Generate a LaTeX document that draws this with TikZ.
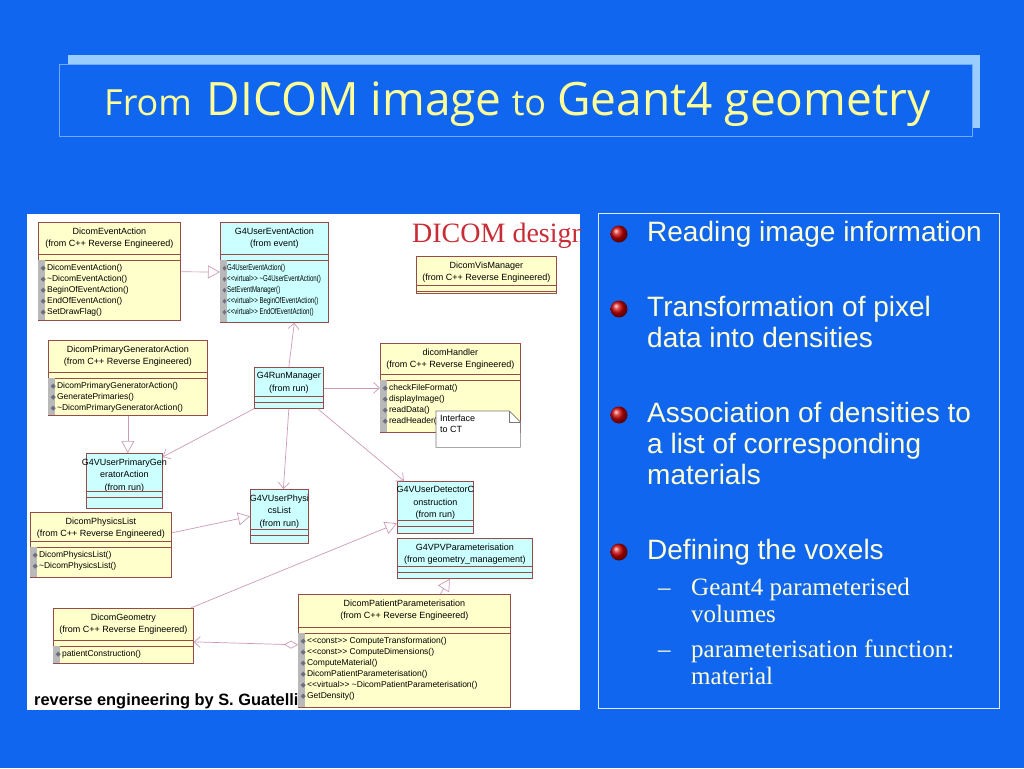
\documentclass[tikz,border=0pt]{standalone}
\usepackage{fontspec}
\setmainfont{Liberation Sans}
\newfontfamily\seriffont{Liberation Serif}
\newfontfamily\titlefont{Open Sans}
\newfontfamily\iconfont{DejaVu Sans}
\usetikzlibrary{shapes,arrows.meta,positioning}

\definecolor{slideblue}{RGB}{17,102,240}
\definecolor{titleshade}{RGB}{153,204,255}
\definecolor{titleline}{RGB}{110,170,255}
\definecolor{titleyellow}{RGB}{255,255,153}
\definecolor{bodytext}{RGB}{255,255,210}
\definecolor{panelline}{RGB}{225,235,255}
\definecolor{classyellow}{RGB}{255,255,204}
\definecolor{classcyan}{RGB}{204,255,255}
\definecolor{classborder}{RGB}{150,75,75}
\definecolor{linkpink}{RGB}{205,155,185}
\definecolor{stripgray}{RGB}{185,185,185}
\definecolor{icongray}{RGB}{110,110,130}
\definecolor{notegray}{RGB}{120,120,120}
\definecolor{dicomred}{RGB}{200,45,55}

\tikzstyle{titleshadow} = [rectangle, fill=titleshade, inner sep=0pt]
\tikzstyle{titleframe} = [rectangle, fill=slideblue, draw=titleline, line width=0.8pt, inner sep=0pt]
\tikzstyle{titletext} = [inner sep=0pt, text=titleyellow, font=\titlefont]
\tikzstyle{textpanel} = [rectangle, draw=panelline, line width=1pt, inner sep=0pt]
\tikzstyle{bulletball} = [circle, inner sep=0pt, minimum size=17pt, ball color=red!80!black]
\tikzstyle{itemtext} = [anchor=north west, align=left, inner sep=0pt, text=bodytext, font=\fontsize{28}{31}\selectfont]
\tikzstyle{subtext} = [anchor=north west, align=left, inner sep=0pt, text=bodytext, font=\seriffont\fontsize{25}{27}\selectfont]
\tikzstyle{subdash} = [anchor=base west, inner sep=0pt, text=bodytext, font=\seriffont\fontsize{25}{27}\selectfont]
\tikzstyle{designpanel} = [rectangle, fill=white, inner sep=0pt]
\tikzstyle{classbox} = [rectangle, draw=classborder, line width=0.7pt, anchor=north west, inner sep=0pt]
\tikzstyle{classhead} = [anchor=north, align=center, inner sep=0pt, font=\fontsize{9}{12.5}\selectfont]
\tikzstyle{classops} = [anchor=north west, align=left, inner sep=0pt, font=\fontsize{8.5}{11}\selectfont]
\tikzstyle{classline} = [draw=classborder, line width=0.5pt]
\tikzstyle{opstrip} = [fill=stripgray]
\tikzstyle{noteline} = [draw=notegray, line width=0.6pt]
\tikzstyle{notetext} = [anchor=north west, align=left, inner sep=0pt, font=\fontsize{9}{11}\selectfont]
\tikzstyle{gen} = [draw=linkpink, line width=0.7pt, -{Triangle[open, length=12pt, width=13pt]}]
\tikzstyle{assoc} = [draw=linkpink, line width=0.7pt, -{Straight Barb[length=6pt, width=11pt]}]
\tikzstyle{aggr} = [draw=linkpink, line width=0.7pt, {Diamond[open, length=14pt, width=8pt]}-{Straight Barb[length=6pt, width=11pt]}]
\tikzstyle{credit} = [inner sep=0pt, text=black, font=\bfseries\fontsize{16.4}{18}\selectfont]

\newcommand{\stereo}[1]{<\kern0pt<#1>\kern0pt>}
\newcommand{\opicon}{{\iconfont\fontsize{7}{7}\selectfont\color{icongray}◆}\hspace{1pt}}

% class: id, top left, width, height, fill, header, first separator
\newcommand{\umlclass}[7]{%
  \node [classbox, fill=#5, minimum width=#3, minimum height=#4] (#1) at (#2) {};
  \node [classhead] (#1head) at ([yshift=-5.5]#1.north) {#6};
  \draw [classline] ([yshift=-#7]#1.north west) -- ([yshift=-#7]#1.north east)
                    ([yshift=-#7-6]#1.north west) -- ([yshift=-#7-6]#1.north east);
}
% operations: id, first separator, xscale, list
\newcommand{\umlops}[4]{%
  \fill [opstrip] ([xshift=0.4,yshift=-#2-6]#1.north west) rectangle ([xshift=7,yshift=0.4]#1.south west);
  \node [classops, xscale=#3] (#1ops) at ([xshift=2.5,yshift=-#2-10.5]#1.north west) {#4};
}

\begin{document}
\begin{tikzpicture}[x=1pt, y=-1pt]
    % Background
    \path [fill=slideblue, use as bounding box] (0,0) rectangle (1024,768);

    % Title
    \node [titleshadow, anchor=north west, minimum width=912pt, minimum height=73pt] (tshadow) at (68,55) {};
    \node [titleframe, anchor=north west, minimum width=913pt, minimum height=72pt] (tbox) at (59,64) {};
    \node [titletext, anchor=base west] (title) at (104,115)
        {{\fontsize{36}{40}\selectfont From}\hspace{15pt}{\fontsize{46}{50}\selectfont DICOM image}\hspace{10pt}{\fontsize{36}{40}\selectfont to}\hspace{11pt}{\fontsize{46}{50}\selectfont Geant4 geometry}};

    % Design picture
    \node [designpanel, anchor=north west, minimum width=553pt, minimum height=496pt] (design) at (27,214) {};
    \begin{scope}
    \clip (design.north west) rectangle (design.south east);
    \node [anchor=base west, inner sep=0pt, text=dicomred, font=\seriffont\fontsize{28}{30}\selectfont] (dtitle) at (412,242) {DICOM design};

    % Classes
    \umlclass{devt}{38,222}{142pt}{98pt}{classyellow}{DicomEventAction\\(from C++ Reverse Engineered)}{32}
    \umlops{devt}{32}{1}{\opicon DicomEventAction()\\\opicon\textasciitilde DicomEventAction()\\\opicon BeginOfEventAction()\\\opicon EndOfEventAction()\\\opicon SetDrawFlag()}
    \umlclass{uevt}{220,222}{108pt}{100pt}{classcyan}{G4UserEventAction\\(from event)}{32}
    \umlops{uevt}{32}{0.72}{\opicon G4UserEventAction()\\\opicon\stereo{virtual} \textasciitilde G4UserEventAction()\\\opicon SetEventManager()\\\opicon\stereo{virtual} BeginOfEventAction()\\\opicon\stereo{virtual} EndOfEventAction()}
    \umlclass{dvis}{416,256}{140pt}{37pt}{classyellow}{DicomVisManager\\(from C++ Reverse Engineered)}{29}
    \umlclass{dpga}{48,340}{159pt}{75pt}{classyellow}{DicomPrimaryGeneratorAction\\(from C++ Reverse Engineered)}{32}
    \umlops{dpga}{32}{1}{\opicon DicomPrimaryGeneratorAction()\\\opicon GeneratePrimaries()\\\opicon\textasciitilde DicomPrimaryGeneratorAction()}
    \umlclass{runm}{254,367}{69pt}{41pt}{classcyan}{G4RunManager\\(from run)}{29}
    \umlclass{dhnd}{380,343}{140pt}{89pt}{classyellow}{dicomHandler\\(from C++ Reverse Engineered)}{31}
    \umlops{dhnd}{31}{1}{\opicon checkFileFormat()\\\opicon displayImage()\\\opicon readData()\\\opicon readHeader()}
    \umlclass{vpga}{86,453}{76pt}{55pt}{classcyan}{G4VUserPrimaryGen\\eratorAction\\(from run)}{38}
    \umlclass{vupl}{250,489}{58pt}{54pt}{classcyan}{G4VUserPhysi\\csList\\(from run)}{40}
    \umlclass{vudc}{397,481}{76pt}{52pt}{classcyan}{G4VUserDetectorC\\onstruction\\(from run)}{39}
    \umlclass{vpvp}{397,538}{135pt}{40pt}{classcyan}{G4VPVParameterisation\\(from geometry\_management)}{28}
    \umlclass{dphl}{30,512}{141pt}{65pt}{classyellow}{DicomPhysicsList\\(from C++ Reverse Engineered)}{29}
    \umlops{dphl}{29}{1}{\opicon DicomPhysicsList()\\\opicon\textasciitilde DicomPhysicsList()}
    \umlclass{dgeo}{53,608}{140pt}{55pt}{classyellow}{DicomGeometry\\(from C++ Reverse Engineered)}{32}
    \umlops{dgeo}{32}{1}{\opicon patientConstruction()}
    \umlclass{dpar}{298,594}{212pt}{113pt}{classyellow}{DicomPatientParameterisation\\(from C++ Reverse Engineered)}{33}
    \umlops{dpar}{33}{1}{\opicon\stereo{const} ComputeTransformation()\\\opicon\stereo{const} ComputeDimensions()\\\opicon ComputeMaterial()\\\opicon DicomPatientParameterisation()\\\opicon\stereo{virtual} \textasciitilde DicomPatientParameterisation()\\\opicon GetDensity()}

    % Note
    \node [anchor=north west, inner sep=0pt, minimum width=84pt, minimum height=36pt] (ctnote) at (436,411) {};
    \filldraw [noteline, fill=white] (ctnote.north west) -- ([xshift=-11]ctnote.north east) -- ([yshift=-11]ctnote.north east)
        -- (ctnote.south east) -- (ctnote.south west) -- cycle;
    \draw [noteline] ([xshift=-11]ctnote.north east) |- ([yshift=-11]ctnote.north east);
    \node [notetext] (ctnotetext) at ([xshift=4,yshift=-3.5]ctnote.north west) {Interface\\to CT};

    % Connections
    \draw [gen] (devt) -- (uevt);
    \draw [assoc] (runm.north) -- ([xshift=20]uevt.south);
    \draw [assoc] (runm) -- (dhnd);
    \draw [assoc] (runm.south west) -- ([yshift=-4]vpga.north east);
    \draw [assoc] (runm.south) -- ([xshift=4]vupl.north);
    \draw [assoc] ([xshift=-6]runm.south east) -- ([xshift=7]vudc.north west);
    \draw [gen] (dpga.south) -- (dpga.south |- vpga.north);
    \draw [gen] ([yshift=12]dphl.east) -- (vupl.west);
    \draw [gen] ([xshift=-3]dgeo.north east) -- ([yshift=-16]vudc.west);
    \draw [gen] ([xshift=36]dpar.north) -- ([xshift=-15]vpvp.south);
    \draw [aggr] ([yshift=6]dpar.west) -- ([yshift=-6]dgeo.east);

    % Credit
    \node [credit, anchor=base west] (credit) at (34,705) {reverse engineering by S. Guatelli};
    \end{scope}

    % Bullet list
    \node [textpanel, anchor=north west, minimum width=401pt, minimum height=495pt] (panel) at (598,213) {};
    \node [bulletball] (ball1) at (619,234) {};
    \node [itemtext] (item1) at (647,221.5) {Reading image information};
    \node [bulletball] (ball2) at (619,309) {};
    \node [itemtext] (item2) at (647,296.5) {Transformation of pixel\\data into densities};
    \node [bulletball] (ball3) at (619,415) {};
    \node [itemtext] (item3) at (647,402.5) {Association of densities to\\a list of corresponding\\materials};
    \node [bulletball] (ball4) at (619,552) {};
    \node [itemtext] (item4) at (647,539.5) {Defining the voxels};
    \node [subdash] (dash1) at (658,595) {\textendash};
    \node [subtext] (sub1) at (691,578) {Geant4 parameterised\\volumes};
    \node [subdash] (dash2) at (658,657) {\textendash};
    \node [subtext] (sub2) at (691,640) {parameterisation function:\\material};
\end{tikzpicture}
\end{document}
